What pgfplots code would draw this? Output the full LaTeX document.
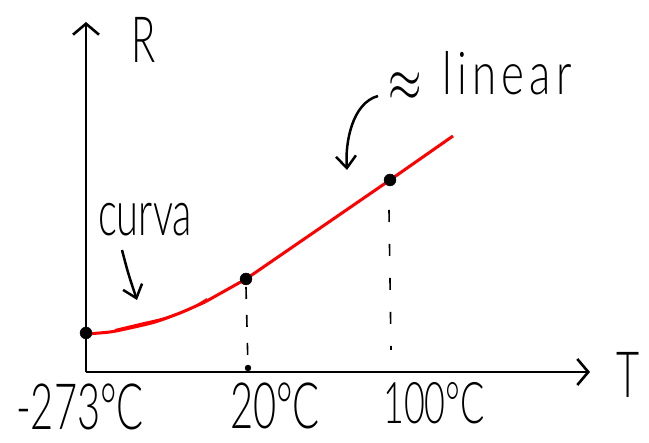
\documentclass[border=0pt]{standalone}
\usepackage{pgfplots}
\pgfplotsset{compat=1.18}
\usetikzlibrary{arrows.meta}
\usepackage{graphicx}
\usepackage{fontspec}
\setmainfont{Lato Light}
\newcommand{\hw}[2][40]{{\fontsize{#1}{#1}\selectfont\scalebox{1}[1.6]{#2}}}
\begin{document}
\begin{tikzpicture}
\begin{axis}[
  width=504bp, height=350bp, scale only axis,
  xmin=86, xmax=590, ymin=71, ymax=421,
  axis lines=left,
  axis line style={line width=2.6bp, -{Straight Barb[length=11bp,width=26bp,line width=2.6bp]}},
  xtick=\empty, ytick=\empty,
  clip=false,
]
\coordinate (ll) at (axis cs:0,0);
\coordinate (ur) at (axis cs:649,443);
% curved part
\addplot[red, line width=3bp, smooth] coordinates {(86,109) (110,111) (130,115) (155,121) (180,130) (205,141)};
\addplot[red, line width=2bp, smooth] coordinates {(115,113) (140,119) (165,125) (190,134) (207,144)};
% linear part
\addplot[red, line width=3bp] coordinates {(205,141) (246,164) (390,263) (453,307)};
% dashed guides
\addplot[black, line width=1.6bp, dash pattern=on 12bp off 16bp] coordinates {(246,156) (248,75)};
\addplot[black, line width=1.6bp, dash pattern=on 12bp off 22bp] coordinates {(389,233) (391,93)};
\addplot[black, only marks, mark=*, mark size=3bp] coordinates {(248,75)};
% points
\addplot[black, only marks, mark=*, mark size=6bp] coordinates {(86,110) (246,164) (390,263)};
% labels
\node at (axis cs:144,403) {\hw{R}};
\node at (axis cs:628,68) {\hw{T}};
\node at (axis cs:80,36) {\hw{-273°C}};
\node at (axis cs:275,37) {\hw{20°C}};
\node at (axis cs:434,40) {\hw[36]{100°C}};
\node at (axis cs:145,223) {\hw{curva}};
\node at (axis cs:405,356) {\scalebox{4.3}[6]{$\approx$}};
\node at (axis cs:507,370) {{\fontsize{44}{44}\selectfont\addfontfeature{LetterSpace=12}\scalebox{1}[1.35]{linear}}};
% annotation arrows
\draw[line width=2.5bp, -{Straight Barb[length=12bp,width=20bp]}] (axis cs:122,193) .. controls (axis cs:128,170) .. (axis cs:137,143);
\draw[line width=2.5bp, -{Straight Barb[length=12bp,width=20bp]}] (axis cs:378,347) .. controls (axis cs:352,340) and (axis cs:345,300) .. (axis cs:347,273);
\end{axis}
\pgfresetboundingbox
\useasboundingbox (ll) rectangle (ur);
\end{tikzpicture}
\end{document}
